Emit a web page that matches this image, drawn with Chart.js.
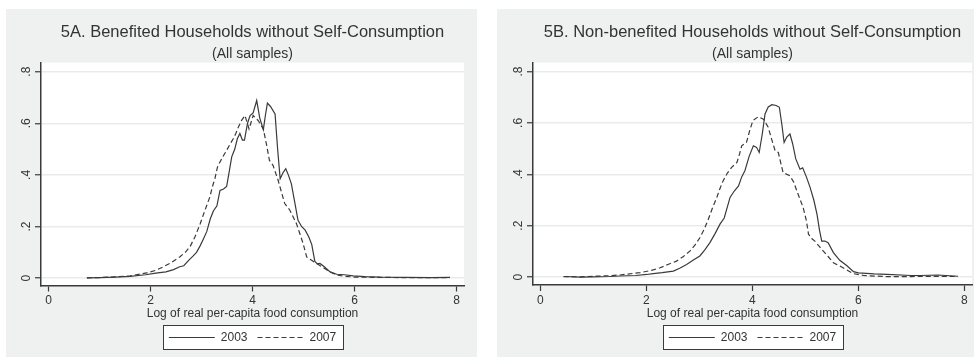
<!DOCTYPE html>
<html>
<head>
<meta charset="utf-8">
<script src="https://cdn.jsdelivr.net/npm/chart.js@4.4.1/dist/chart.umd.min.js"></script>
<style>
  body { margin: 0; background: #fff; width: 974px; height: 357px; overflow: hidden; position: relative; }
  .panel { position: absolute; top: 9px; height: 348px; background: #eff1f1; }
  #panelA { left: 6px; width: 471px; }
  #panelB { left: 497px; width: 477px; }
</style>
</head>
<body>
<div class="panel" id="panelA"><canvas id="chartA" width="471" height="348"></canvas></div>
<div class="panel" id="panelB"><canvas id="chartB" width="477" height="348"></canvas></div>
<script>
const xTicks = [0, 2, 4, 6, 8];
const yTicks = [0, 0.2, 0.4, 0.6, 0.8];
const yTickLabels = ['0', '.2', '.4', '.6', '.8'];
const years = ['2003', '2007'];

// 5A - benefited households, kernel density
const aLog2003 = [0.75, 1.0, 1.3, 1.6, 1.9, 2.1, 2.3, 2.45, 2.57, 2.65, 2.75, 2.83, 2.9, 2.97, 3.03, 3.1, 3.17, 3.23, 3.3, 3.36, 3.43, 3.49, 3.53, 3.59, 3.65, 3.7, 3.75, 3.8, 3.84, 3.9, 3.95, 4.01, 4.08, 4.14, 4.21, 4.25, 4.29, 4.35, 4.44, 4.49, 4.54, 4.6, 4.65, 4.7, 4.76, 4.82, 4.89, 4.96, 5.03, 5.1, 5.16, 5.22, 5.27, 5.32, 5.4, 5.52, 5.65, 5.8, 5.97, 6.2, 6.5, 7.0, 7.5, 7.87];
const aDens2003 = [0.001, 0.002, 0.004, 0.007, 0.013, 0.019, 0.024, 0.033, 0.044, 0.048, 0.07, 0.085, 0.1, 0.125, 0.15, 0.18, 0.23, 0.26, 0.28, 0.34, 0.345, 0.355, 0.4, 0.47, 0.5, 0.54, 0.56, 0.535, 0.535, 0.6, 0.63, 0.64, 0.688, 0.62, 0.575, 0.63, 0.678, 0.665, 0.636, 0.5, 0.385, 0.41, 0.424, 0.4, 0.365, 0.3, 0.224, 0.2, 0.186, 0.16, 0.13, 0.065, 0.055, 0.057, 0.045, 0.024, 0.015, 0.013, 0.009, 0.006, 0.004, 0.003, 0.002, 0.003];
const aLog2007 = [0.75, 1.0, 1.3, 1.6, 1.92, 2.1, 2.25, 2.4, 2.57, 2.68, 2.77, 2.87, 2.97, 3.06, 3.16, 3.22, 3.26, 3.31, 3.36, 3.43, 3.49, 3.56, 3.62, 3.67, 3.72, 3.78, 3.85, 3.93, 4.01, 4.11, 4.21, 4.27, 4.33, 4.4, 4.5, 4.57, 4.63, 4.73, 4.8, 4.86, 4.93, 4.99, 5.06, 5.15, 5.25, 5.35, 5.52, 5.65, 5.8, 6.0, 6.5, 7.0, 7.5, 7.87];
const aDens2007 = [0.001, 0.002, 0.005, 0.009, 0.02, 0.03, 0.044, 0.06, 0.082, 0.1, 0.121, 0.16, 0.21, 0.26, 0.314, 0.36, 0.385, 0.43, 0.45, 0.475, 0.495, 0.52, 0.54, 0.56, 0.585, 0.61, 0.63, 0.578, 0.63, 0.61, 0.578, 0.52, 0.456, 0.437, 0.379, 0.33, 0.289, 0.263, 0.235, 0.211, 0.17, 0.134, 0.082, 0.07, 0.057, 0.045, 0.024, 0.012, 0.007, 0.004, 0.003, 0.002, 0.002, 0.002];

// 5B - non-benefited households
const bLog2003 = [0.44, 0.75, 1.0, 1.3, 1.5, 1.8, 2.01, 2.13, 2.3, 2.51, 2.63, 2.76, 2.88, 3.01, 3.1, 3.2, 3.3, 3.39, 3.47, 3.58, 3.66, 3.74, 3.8, 3.86, 3.94, 4.02, 4.08, 4.13, 4.19, 4.24, 4.3, 4.37, 4.45, 4.51, 4.56, 4.6, 4.65, 4.71, 4.76, 4.82, 4.9, 4.95, 5.02, 5.09, 5.16, 5.22, 5.27, 5.31, 5.37, 5.43, 5.53, 5.65, 5.78, 5.91, 6.0, 6.3, 6.54, 7.0, 7.17, 7.5, 7.88];
const bDens2003 = [0.002, 0.0, 0.001, 0.002, 0.004, 0.006, 0.01, 0.013, 0.017, 0.023, 0.034, 0.049, 0.065, 0.082, 0.105, 0.134, 0.17, 0.206, 0.23, 0.31, 0.335, 0.355, 0.39, 0.414, 0.47, 0.511, 0.505, 0.485, 0.56, 0.635, 0.662, 0.671, 0.668, 0.661, 0.59, 0.524, 0.545, 0.557, 0.52, 0.46, 0.42, 0.425, 0.39, 0.349, 0.3, 0.245, 0.18, 0.14, 0.14, 0.134, 0.095, 0.065, 0.045, 0.021, 0.016, 0.012, 0.01, 0.006, 0.006, 0.008, 0.003];
const bLog2007 = [0.44, 0.75, 1.0, 1.3, 1.5, 1.88, 2.1, 2.26, 2.42, 2.57, 2.7, 2.82, 2.92, 3.01, 3.09, 3.17, 3.25, 3.33, 3.39, 3.45, 3.53, 3.61, 3.71, 3.76, 3.8, 3.89, 3.95, 4.01, 4.11, 4.21, 4.3, 4.36, 4.43, 4.49, 4.58, 4.71, 4.78, 4.84, 4.96, 5.02, 5.06, 5.12, 5.18, 5.26, 5.34, 5.43, 5.53, 5.65, 5.78, 5.91, 6.1, 6.5, 7.0, 7.5, 7.88];
const bDens2007 = [0.002, 0.001, 0.003, 0.005, 0.008, 0.017, 0.026, 0.036, 0.05, 0.062, 0.08, 0.101, 0.125, 0.153, 0.185, 0.225, 0.27, 0.31, 0.345, 0.375, 0.405, 0.427, 0.446, 0.48, 0.511, 0.524, 0.57, 0.609, 0.624, 0.615, 0.583, 0.54, 0.492, 0.485, 0.407, 0.394, 0.37, 0.336, 0.27, 0.22, 0.167, 0.15, 0.14, 0.12, 0.101, 0.08, 0.056, 0.043, 0.028, 0.013, 0.006, 0.002, 0.002, 0.003, 0.002];

const ink = '#3a3a3a';
const fontFamily = '"Liberation Sans", Arial, sans-serif';
const font12 = { family: fontFamily, size: 12 };

const toPoints = (xs, ys) => xs.map((x, i) => ({ x: x, y: ys[i] }));

// white plot region + boxed legend, like stata
const panelPlugin = {
    id: 'panel',
    beforeDraw(chart) {
        const { ctx, chartArea: a, legend } = chart;
        ctx.save();
        ctx.fillStyle = '#fff';
        ctx.fillRect(a.left, a.top, a.right - a.left, a.bottom - a.top);
        const hb = legend.legendHitBoxes;
        if (hb && hb.length) {
            const last = hb[hb.length - 1];
            const left = Math.round(hb[0].left - 6);
            const right = Math.round(last.left + last.width + 7);
            const top = Math.round(hb[0].top - 6.5);
            const bottom = Math.round(hb[0].top + 17);
            ctx.fillRect(left, top, right - left, bottom - top);
            ctx.strokeStyle = ink;
            ctx.lineWidth = 1;
            ctx.strokeRect(left + 0.5, top + 0.5, right - left, bottom - top);
        }
        ctx.restore();
    }
};

// point-style legend items lose the dataset dash, put it back
const legendLabels = chart => {
    const items = Chart.defaults.plugins.legend.labels.generateLabels(chart);
    items.forEach(it => {
        const ds = chart.data.datasets[it.datasetIndex];
        it.lineDash = ds.borderDash || [];
        it.lineWidth = ds.borderWidth;
        it.strokeStyle = ds.borderColor;
    });
    return items;
};

function makeChart(el, cfg) {
    return new Chart(el, {
        type: 'line',
        data: {
            datasets: [{
                label: years[0],
                data: toPoints(cfg.x1, cfg.y1),
                borderColor: ink,
                backgroundColor: ink,
                borderWidth: 1.2,
                pointRadius: 0,
                tension: 0
            },
            {
                label: years[1],
                data: toPoints(cfg.x2, cfg.y2),
                borderColor: ink,
                backgroundColor: ink,
                borderWidth: 1.2,
                borderDash: [5, 3],
                pointRadius: 0,
                tension: 0
            }]
        },
        options: {
            responsive: false,
            animation: false,
            layout: {
                padding: { left: 0, right: cfg.padRight, top: 0, bottom: 3.5 }
            },
            scales: {
                x: {
                    type: 'linear',
                    min: cfg.xMin,
                    max: cfg.xMax,
                    afterBuildTicks: s => { s.ticks = xTicks.map(v => ({ value: v })); },
                    afterFit: s => { s.height = cfg.xHeight; },
                    grid: { drawOnChartArea: false, tickLength: 6, tickColor: ink, tickWidth: 1.2 },
                    border: { color: ink, width: 1.5 },
                    ticks: { color: '#333', font: font12, padding: 2, minRotation: 0, maxRotation: 0, callback: v => String(v) },
                    title: {
                        display: true,
                        text: 'Log of real per-capita food consumption',
                        color: '#333',
                        font: font12,
                        padding: { top: 0, bottom: 1 }
                    }
                },
                y: {
                    type: 'linear',
                    min: cfg.yMin,
                    max: 0.835,
                    afterBuildTicks: s => { s.ticks = yTicks.map(v => ({ value: v })); },
                    afterFit: s => { s.width = cfg.yWidth; },
                    grid: { color: '#e9ebeb', lineWidth: 1.5, tickColor: ink, tickLength: 6, tickWidth: 1.2 },
                    border: { color: ink, width: 1.5 },
                    ticks: {
                        color: '#333',
                        font: font12,
                        padding: 3.5,
                        minRotation: 90,
                        maxRotation: 90,
                        crossAlign: 'center',
                        callback: (v, i) => yTickLabels[i]
                    }
                }
            },
            plugins: {
                title: {
                    display: true,
                    fullSize: false,
                    text: cfg.title,
                    color: '#333',
                    font: { family: fontFamily, size: 16.5, weight: 'normal' },
                    padding: { top: 13.5, bottom: 2 }
                },
                subtitle: {
                    display: true,
                    fullSize: false,
                    text: '(All samples)',
                    color: '#333',
                    font: { family: fontFamily, size: 14, weight: 'normal' },
                    padding: { top: 1.5, bottom: 0 }
                },
                legend: {
                    position: 'bottom',
                    fullSize: false,
                    labels: {
                        usePointStyle: true,
                        pointStyle: 'line',
                        pointStyleWidth: 46,
                        boxHeight: 12,
                        color: '#333',
                        font: font12,
                        padding: 10,
                        generateLabels: legendLabels
                    }
                },
                tooltip: { enabled: false }
            }
        },
        plugins: [panelPlugin]
    });
}

makeChart(document.getElementById('chartA'), {
    title: '5A. Benefited Households without Self-Consumption',
    x1: aLog2003, y1: aDens2003, x2: aLog2007, y2: aDens2007,
    yWidth: 35, padRight: 13, xMin: -0.15, xMax: 8.145, yMin: -0.0286, xHeight: 36
});

makeChart(document.getElementById('chartB'), {
    title: '5B. Non-benefited Households without Self-Consumption',
    x1: bLog2003, y1: bDens2003, x2: bLog2007, y2: bDens2007,
    yWidth: 36, padRight: 2, xMin: -0.138, xMax: 8.145, yMin: -0.031, xHeight: 36.5
});
</script>
</body>
</html>
